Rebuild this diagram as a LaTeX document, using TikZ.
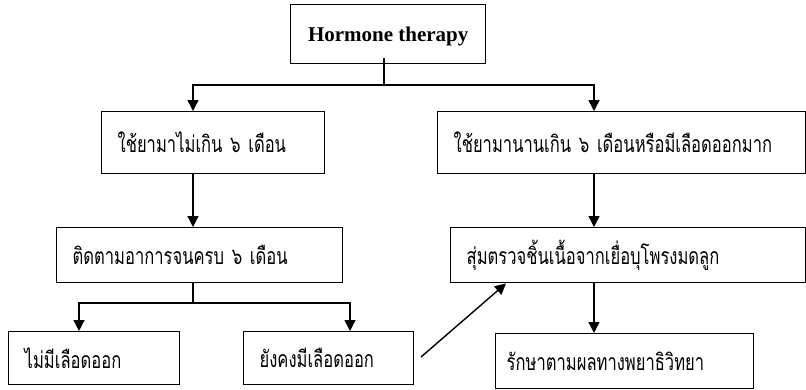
\documentclass[tikz,border=0pt]{standalone}
\usepackage{fontspec}
\setmainfont{Liberation Serif}
\newfontfamily\thaifont[Script=Thai,FakeStretch=0.72]{Loma}
\usetikzlibrary{arrows.meta}
\begin{document}
\begin{tikzpicture}[x=1pt,y=-1pt,
  box/.style={draw,line width=1.4pt,anchor=north west,inner xsep=16pt,inner ysep=0pt,align=left,font=\thaifont\fontsize{23}{27}\selectfont},
  arr/.style={line width=1.4pt,-{Triangle[width=11pt,length=11pt]}},
  ln/.style={line width=1.4pt}]
\useasboundingbox (0,0) rectangle (806,389);
\node[draw,line width=1.4pt,anchor=north west,minimum width=195pt,minimum height=59pt,text depth=0pt,font=\bfseries\fontsize{21}{24}\selectfont] (H) at (290,4) {Hormone therapy};
\node[box,minimum width=223pt,minimum height=62pt,text width=191pt] (A) at (101,111) {ใช้ยามาไม่เกิน ๖ เดือน};
\node[box,minimum width=368pt,minimum height=62pt,text width=336pt] (B) at (437,111) {ใช้ยามานานเกิน ๖ เดือนหรือมีเลือดออกมาก};
\node[box,minimum width=286pt,minimum height=55pt,text width=254pt] (C) at (56,227) {ติดตามอาการจนครบ ๖ เดือน};
\node[box,minimum width=355pt,minimum height=55pt,text width=323pt] (D) at (450,227) {สุ่มตรวจชิ้นเนื้อจากเยื่อบุโพรงมดลูก};
\node[box,minimum width=171pt,minimum height=53pt,text width=139pt] (E) at (8,331) {ไม่มีเลือดออก};
\node[box,minimum width=170pt,minimum height=53pt,text width=138pt] (F) at (243,331) {ยังคงมีเลือดออก};
\node[box,minimum width=258pt,minimum height=55pt,text width=236pt,inner xsep=11pt] (G) at (495,333) {รักษาตามผลทางพยาธิวิทยา};
\coordinate (h1) at (384,85);
\coordinate (c1) at (193,303);
\coordinate (f1) at (421,357);
\draw[ln] ([yshift=6pt]H.south -| h1) -- (h1);
\draw[arr] (h1) -| (A.north -| 193,0);
\draw[arr] (h1) -| (B.north -| 594,0);
\draw[arr] (A.south -| 193,0) -- (C.north -| 193,0);
\draw[arr] (B.south -| 594,0) -- (D.north -| 594,0);
\draw[ln] (C.south -| c1) -- (c1);
\draw[arr] (c1) -| (E.north -| 79,0);
\draw[arr] (c1) -| (F.north -| 350,0);
\draw[arr] (f1) -- (D.south -| 506,0);
\draw[arr] (D.south -| 594,0) -- (G.north -| 594,0);
\end{tikzpicture}
\end{document}
